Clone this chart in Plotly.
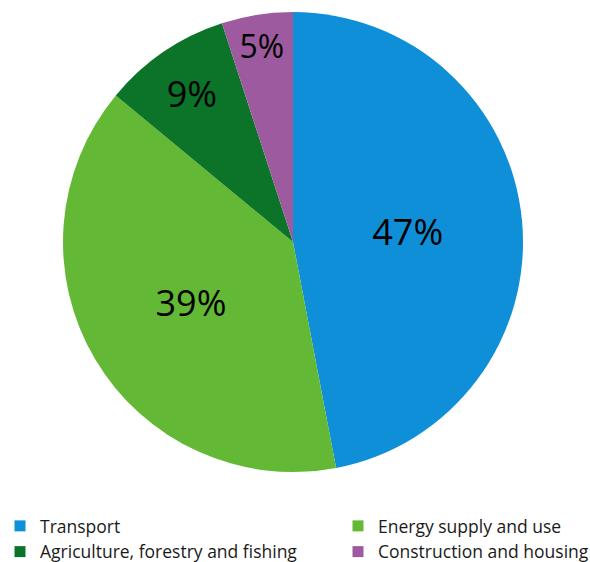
import plotly.graph_objects as go

sectors = ["Transport", "Energy supply and use", "Agriculture, forestry and fishing", "Construction and housing"]
shares = [47, 39, 9, 5]
colors = ["#0f8fd8", "#63b935", "#0b7428", "#9d5a9e"]
# legend column for each sector (left / right)
legend_column = ["legend", "legend2", "legend", "legend2"]

W, H = 590, 562
cx, cy, r = 293, 242, 230
FONT = "Open Sans"

fig = go.Figure()

fig.add_trace(go.Pie(
    labels=sectors,
    values=shares,
    sort=False,
    direction="clockwise",
    rotation=0,
    marker=dict(colors=colors, line=dict(width=0)),
    texttemplate="%{value}%",
    textposition="inside",
    insidetextorientation="horizontal",
    textfont=dict(family=FONT, size=36, color="#000000"),
    hoverinfo="label+percent",
    showlegend=False,
    domain=dict(x=[(cx - r) / W, (cx + r) / W], y=[1 - (cy + r) / H, 1 - (cy - r) / H]),
))

# legend keys laid out in two columns below the pie
for name, col, lg in zip(sectors, colors, legend_column):
    fig.add_trace(go.Scatter(
        x=[None], y=[None], mode="markers", name=name,
        marker=dict(symbol="square", size=11, color=col),
        legend=lg, hoverinfo="skip",
    ))

legend_style = dict(
    orientation="v",
    yanchor="top",
    y=1 - 508 / H,
    xanchor="left",
    font=dict(family=FONT, size=17.5, color="#1a1a1a"),
    bgcolor="rgba(0,0,0,0)",
    tracegroupgap=0,
    itemclick=False, itemdoubleclick=False,
)

fig.update_layout(
    width=W, height=H,
    margin=dict(l=0, r=0, t=0, b=0, autoexpand=False),
    paper_bgcolor="white",
    plot_bgcolor="white",
    xaxis=dict(visible=False),
    yaxis=dict(visible=False),
    showlegend=True,
    legend=dict(x=0.0, **legend_style),
    legend2=dict(x=338 / W, **legend_style),
)

fig.write_html("out.html")
